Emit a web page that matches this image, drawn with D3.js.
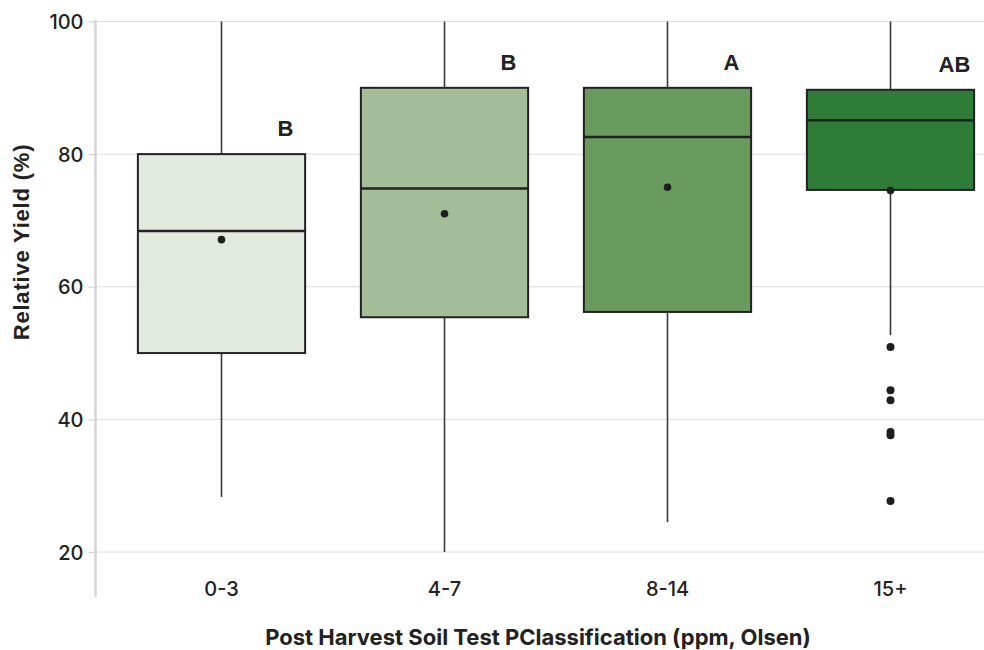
<!DOCTYPE html>
<html>
<head>
<meta charset="utf-8">
<script src="https://cdn.jsdelivr.net/npm/d3@7"></script>
<style>
  html, body { margin: 0; padding: 0; background: #fff; }
  svg { display: block; }
</style>
</head>
<body>
<svg id="chart" width="984" height="650"></svg>
<script>
// Soil test P classes and their relative-yield box summaries
const categories = ["0-3", "4-7", "8-14", "15+"];
const whiskerLow  = [28.3, 20.0, 24.5, 52.7];
const q1          = [50.0, 55.4, 56.2, 74.6];
const medians     = [68.4, 74.8, 82.6, 85.1];
const q3          = [80.0, 90.0, 90.0, 89.7];
const whiskerHigh = [100, 100, 100, 100];
const means       = [67.1, 71.0, 75.0, 74.5];
const outliers    = [[], [], [], [50.9, 44.4, 42.9, 38.1, 37.6, 27.7]];
const letters     = ["B", "B", "A", "AB"];
const fills       = ["#e2eadf", "#a3bd99", "#699b5f", "#2e7c37"];
const yTicks      = [20, 40, 60, 80, 100];

const svg = d3.select("#chart");
const W = 984, H = 650;

const x = d3.scaleBand()
  .domain(categories)
  .range([110, 1002])
  .paddingInner(0.25)
  .paddingOuter(0.125);

const y = d3.scaleLinear()
  .domain([20, 100])
  .range([552, 21.5]);

const axisX = 95.5;
const tickFont = "Inter, 'Noto Sans', sans-serif";

// gridlines
svg.append("g")
  .selectAll("line")
  .data(yTicks)
  .join("line")
  .attr("x1", axisX)
  .attr("x2", W)
  .attr("y1", d => y(d))
  .attr("y2", d => y(d))
  .attr("stroke", "#dcdcdc")
  .attr("stroke-width", 1);

// y axis
const yAxis = d3.axisLeft(y)
  .tickValues(yTicks)
  .tickSize(7)
  .tickPadding(5)
  .tickFormat(d3.format("d"));

const gy = svg.append("g")
  .attr("transform", `translate(${axisX},0)`)
  .call(yAxis);
gy.select(".domain").remove();
gy.selectAll(".tick line").attr("stroke", "#d4d4d4").attr("stroke-width", 1.2);
gy.selectAll(".tick text")
  .attr("font-family", tickFont)
  .attr("font-size", 20)
  .attr("font-weight", 500)
  .attr("fill", "#222")
  .attr("dy", "0.36em");

svg.append("line")
  .attr("x1", axisX).attr("x2", axisX)
  .attr("y1", 20).attr("y2", 597)
  .attr("stroke", "#d4d4d4")
  .attr("stroke-width", 2.5);

// x tick labels
const xAxis = d3.axisBottom(x).tickSize(0).tickPadding(0);
const gx = svg.append("g")
  .attr("transform", "translate(0,596)")
  .call(xAxis);
gx.select(".domain").remove();
gx.selectAll(".tick text")
  .attr("font-family", tickFont)
  .attr("font-size", 20)
  .attr("font-weight", 500)
  .attr("fill", "#222")
  .attr("dy", 0)
  .attr("y", 0);

// boxes
const boxes = svg.append("g")
  .selectAll("g")
  .data(categories.map((c, i) => ({ c, i })))
  .join("g");

const cx = d => x(d.c) + x.bandwidth() / 2;

// whiskers
boxes.append("line")
  .attr("x1", cx).attr("x2", cx)
  .attr("y1", d => y(whiskerHigh[d.i]))
  .attr("y2", d => y(q3[d.i]))
  .attr("stroke", "#3a3a3a")
  .attr("stroke-width", 1.6);
boxes.append("line")
  .attr("x1", cx).attr("x2", cx)
  .attr("y1", d => y(q1[d.i]))
  .attr("y2", d => y(whiskerLow[d.i]))
  .attr("stroke", "#3a3a3a")
  .attr("stroke-width", 1.6);

boxes.append("rect")
  .attr("x", d => x(d.c))
  .attr("width", x.bandwidth())
  .attr("y", d => y(q3[d.i]))
  .attr("height", d => y(q1[d.i]) - y(q3[d.i]))
  .attr("fill", d => fills[d.i])
  .attr("stroke", "#222")
  .attr("stroke-width", 2);

boxes.append("line")
  .attr("x1", d => x(d.c))
  .attr("x2", d => x(d.c) + x.bandwidth())
  .attr("y1", d => y(medians[d.i]))
  .attr("y2", d => y(medians[d.i]))
  .attr("stroke", "#222")
  .attr("stroke-width", 2.5);

// means
boxes.append("circle")
  .attr("cx", cx)
  .attr("cy", d => y(means[d.i]))
  .attr("r", 3.8)
  .attr("fill", "#1e1e1e");

// outliers
boxes.selectAll("circle.out")
  .data(d => outliers[d.i].map(v => ({ v, d })))
  .join("circle")
  .attr("class", "out")
  .attr("cx", o => cx(o.d))
  .attr("cy", o => y(o.v))
  .attr("r", 4)
  .attr("fill", "#1e1e1e");

// significance letters
boxes.append("text")
  .attr("x", d => cx(d) + 64)
  .attr("y", d => y(q3[d.i]) - 18)
  .attr("text-anchor", "middle")
  .attr("font-family", "'Liberation Sans', Arial, sans-serif")
  .attr("font-weight", "bold")
  .attr("font-size", 22)
  .attr("fill", "#222")
  .text(d => letters[d.i]);

// axis titles
svg.append("text")
  .attr("x", 538)
  .attr("y", 645)
  .attr("text-anchor", "middle")
  .attr("font-family", tickFont)
  .attr("font-weight", "bold")
  .attr("font-size", 22)
  .attr("fill", "#222")
  .text("Post Harvest Soil Test PClassification (ppm, Olsen)");

svg.append("text")
  .attr("transform", "translate(29,242) rotate(-90)")
  .attr("text-anchor", "middle")
  .attr("font-family", "'Liberation Sans', Arial, sans-serif")
  .attr("font-weight", "bold")
  .attr("font-size", 22)
  .attr("letter-spacing", 0.8)
  .attr("fill", "#222")
  .text("Relative Yield (%)");
</script>
</body>
</html>
